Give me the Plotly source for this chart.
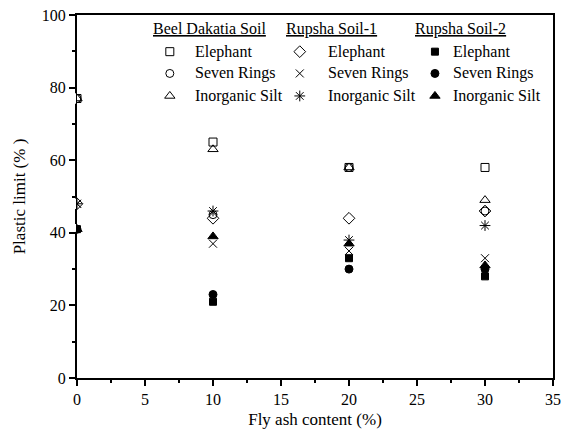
import plotly.graph_objects as go

# ---- data ----
fly_ash = [0, 10, 20, 30]

beel_elephant = [77, 65, 58, 58]
beel_seven = [77, 45, 58, 46]
beel_inorganic = [77, 63, 58, 49]

r1_elephant = [48, 44, 44, 46]
r1_seven = [48, 37, 35, 33]
r1_inorganic = [48, 46, 38, 42]

r2_elephant = [41, 21, 33, 28]
r2_seven = [41, 23, 30, 30]
r2_inorganic = [41, 39, 37, 31]

soil_names = ["Beel Dakatia Soil", "Rupsha Soil-1", "Rupsha Soil-2"]
additive_names = ["Elephant", "Seven Rings", "Inorganic Silt"]

series = [
    [beel_elephant, beel_seven, beel_inorganic],
    [r1_elephant, r1_seven, r1_inorganic],
    [r2_elephant, r2_seven, r2_inorganic],
]
symbols = [
    ["square-open", "circle-open", "triangle-up-open"],
    ["diamond-open", "x-thin-open", "asterisk-open"],
    ["square", "circle", "triangle-up"],
]
sizes = [
    [8, 8, 9],
    [9, 8, 9],
    [7, 8, 9],
]

FONT = "Liberation Serif"
X_RANGE = [0, 35]
Y_RANGE = [0, 100]
Y_TICKS = [0, 20, 40, 60, 80, 100]

fig = go.Figure()

for s in range(3):
    for a in range(3):
        fig.add_trace(go.Scatter(
            x=fly_ash, y=series[s][a], mode="markers",
            name=f"{soil_names[s]} - {additive_names[a]}",
            marker=dict(symbol=symbols[s][a], size=sizes[s][a], color="black",
                        line=dict(color="black", width=1)),
            showlegend=False,
        ))

# white masks left of the y axis so the x=0 markers look clipped at the axis
plot_h_px = 432 - 15 - 54
units_per_px = (Y_RANGE[1] - Y_RANGE[0]) / plot_h_px
for v in sorted({series[s][a][0] for s in range(3) for a in range(3)}):
    half = 5.2 * units_per_px
    lo, hi = v - half, v + half
    for t in Y_TICKS:  # keep major ticks visible
        if lo < t + 0.25 < hi and t < v:
            lo = t + 0.25
        if lo < t - 0.25 < hi and t > v:
            hi = t - 0.25
    fig.add_shape(type="rect", xref="paper", yref="y", x0=-0.013, x1=-0.0021,
                  y0=lo, y1=hi, fillcolor="white", line=dict(width=0), layer="above")

# manual legend (3 columns); positions given as fractions of the plot area
col_marker_x = [0.195, 0.468, 0.752]
col_text_x = [0.244, 0.523, 0.786]
col_head_x = [0.155, 0.435, 0.706]
row_y = [0.899, 0.839, 0.777]
head_y = 0.962

def fx(f):
    return X_RANGE[0] + f * (X_RANGE[1] - X_RANGE[0])

def fy(f):
    return Y_RANGE[0] + f * (Y_RANGE[1] - Y_RANGE[0])

for s in range(3):
    for a in range(3):
        fig.add_trace(go.Scatter(
            x=[fx(col_marker_x[s])], y=[fy(row_y[a])], mode="markers",
            showlegend=False, hoverinfo="skip",
            marker=dict(symbol=symbols[s][a], size=sizes[s][a], color="black",
                        line=dict(color="black", width=1)),
        ))
        fig.add_annotation(
            x=col_text_x[s], y=row_y[a], xref="paper", yref="paper",
            text=additive_names[a], showarrow=False, xanchor="left", yanchor="middle",
            font=dict(family=FONT, size=16, color="black"),
        )
    fig.add_annotation(
        x=col_head_x[s], y=head_y, xref="paper", yref="paper",
        text=f"<u>{soil_names[s]}</u>", showarrow=False, xanchor="left", yanchor="middle",
        font=dict(family=FONT, size=16, color="black"),
    )

axis_common = dict(
    showgrid=False, zeroline=False, showline=True, linecolor="black", linewidth=2,
    mirror=True, ticks="outside", ticklen=6, tickwidth=1.5, tickcolor="black",
    tickfont=dict(family=FONT, size=16, color="black"), automargin=False,
)

fig.update_layout(
    width=571, height=432,
    margin=dict(l=77, r=18, t=15, b=54, autoexpand=False),
    paper_bgcolor="white", plot_bgcolor="white",
    font=dict(family=FONT, color="black"),
    xaxis=dict(range=X_RANGE, tickvals=[0, 5, 10, 15, 20, 25, 30, 35],
               minor=dict(ticks="outside", ticklen=3, tickwidth=1.5, tickcolor="black", dtick=2.5),
               title=dict(text="Fly ash content (%)", font=dict(family=FONT, size=17), standoff=6),
               **axis_common),
    yaxis=dict(range=Y_RANGE, tickvals=Y_TICKS,
               minor=dict(ticks="outside", ticklen=3, tickwidth=1.5, tickcolor="black", dtick=10),
               title=dict(text="Plastic limit (% )", font=dict(family=FONT, size=17), standoff=12),
               **axis_common),
)

fig.write_html("out.html")
